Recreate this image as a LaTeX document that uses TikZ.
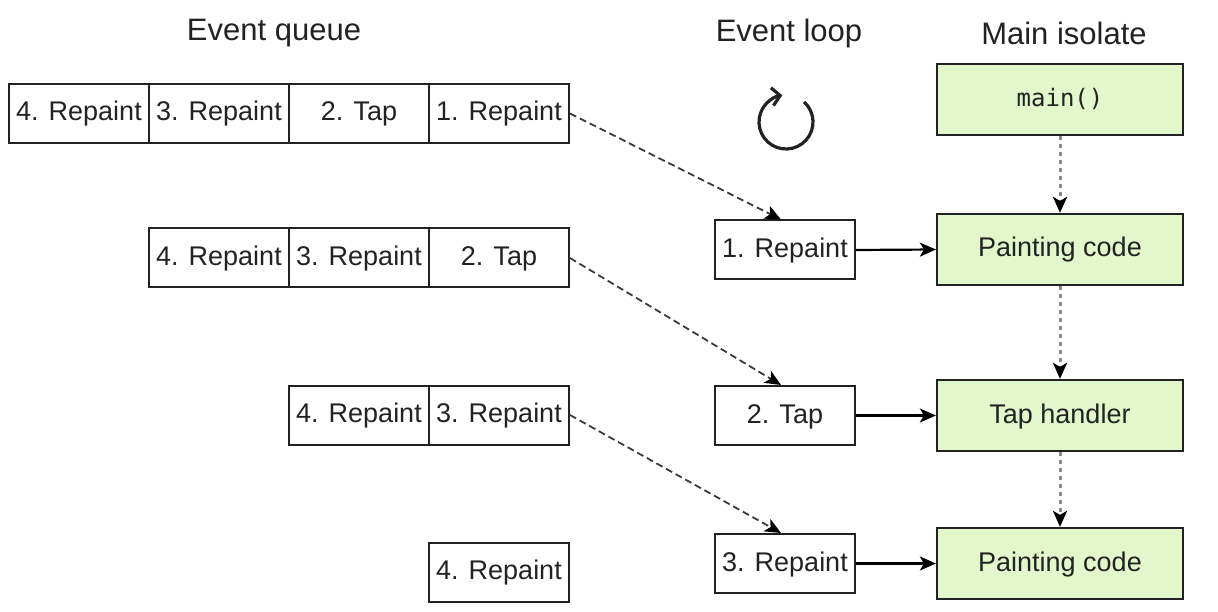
\documentclass[tikz,border=0pt]{standalone}
\usepackage{fontspec}
\setmainfont{Liberation Sans}
\newfontfamily\codefont{DejaVu Sans Mono}
\usetikzlibrary{arrows.meta}
\definecolor{boxgreen}{HTML}{E2F8CC}
\definecolor{ink}{HTML}{222222}
\definecolor{dotgray}{HTML}{8A8A8A}
\definecolor{dashgray}{HTML}{3A3A3A}
\begin{document}
\begin{tikzpicture}[x=1pt,y=-1pt,
  cell/.style={draw=ink, line width=2pt, minimum width=140pt, minimum height=59pt,
    inner sep=0pt, font=\fontsize{27}{30}\selectfont, text=ink,
    text height=19pt, text depth=4pt},
  greenbox/.style={draw=ink, line width=2.2pt, fill=boxgreen, minimum width=246pt,
    minimum height=71pt, inner sep=0pt, font=\fontsize{27}{30}\selectfont, text=ink,
    text height=19pt, text depth=4pt},
  title/.style={font=\fontsize{31}{34}\selectfont, text=ink, inner sep=0pt},
  queuearrow/.style={dashgray, line width=1.8pt, dash pattern=on 7pt off 4pt,
    -{Stealth[length=16pt,width=14pt,inset=4pt,color=black]}},
  flowarrow/.style={black, line width=2.2pt, -{Stealth[length=16pt,width=14pt,inset=4pt]}},
  callarrow/.style={dotgray, line width=3pt, dash pattern=on 4pt off 4pt,
    -{Stealth[length=16pt,width=14pt,inset=4pt,color=black]}}
]
\useasboundingbox (0,0) rectangle (1218,612);

% titles
\node[title] (tq) at (274,33) {Event queue};
\node[title] (tl) at (789,33) {Event loop};
\node[title] (tm) at (1064,33) {Main isolate};

% event queue rows
\node[cell] (q14) at (79,113.5) {4. Repaint};
\node[cell] (q13) at (219,113.5) {3. Repaint};
\node[cell] (q12) at (359,113.5) {2. Tap};
\node[cell] (q11) at (499,113.5) {1. Repaint};

\node[cell] (q24) at (219,258) {4. Repaint};
\node[cell] (q23) at (359,258) {3. Repaint};
\node[cell] (q22) at (499,258) {2. Tap};

\node[cell] (q34) at (359,415) {4. Repaint};
\node[cell] (q33) at (499,415) {3. Repaint};

\node[cell] (q44) at (499,572) {4. Repaint};

% event loop icon
\draw[ink, line width=3.2pt, -{Straight Barb[length=8pt,width=18pt]}]
  (786,122) ++(-48:27) arc[start angle=-48, end angle=262, radius=27];

% event loop boxes
\node[cell] (l1) at (785,250) {1. Repaint};
\node[cell] (l2) at (785,415.5) {2. Tap};
\node[cell] (l3) at (785,563.5) {3. Repaint};

% main isolate
\node[greenbox, font=\codefont\fontsize{24}{28}\selectfont] (m0) at (1060,99.5) {main()};
\node[greenbox] (m1) at (1060,249.5) {Painting code};
\node[greenbox] (m2) at (1060,415.5) {Tap handler};
\node[greenbox] (m3) at (1060,563.5) {Painting code};

% connectors
\draw[queuearrow] (q11.east) -- ([xshift=-4pt]l1.north);
\draw[queuearrow] (q22.east) -- ([xshift=-4pt]l2.north);
\draw[queuearrow] (q33.east) -- ([xshift=-4pt]l3.north);

\draw[flowarrow] (l1.east) -- (m1.west);
\draw[flowarrow] (l2.east) -- (m2.west);
\draw[flowarrow] (l3.east) -- (m3.west);

\draw[callarrow] (m0.south) -- (m1.north);
\draw[callarrow] (m1.south) -- (m2.north);
\draw[callarrow] (m2.south) -- (m3.north);
\end{tikzpicture}
\end{document}
